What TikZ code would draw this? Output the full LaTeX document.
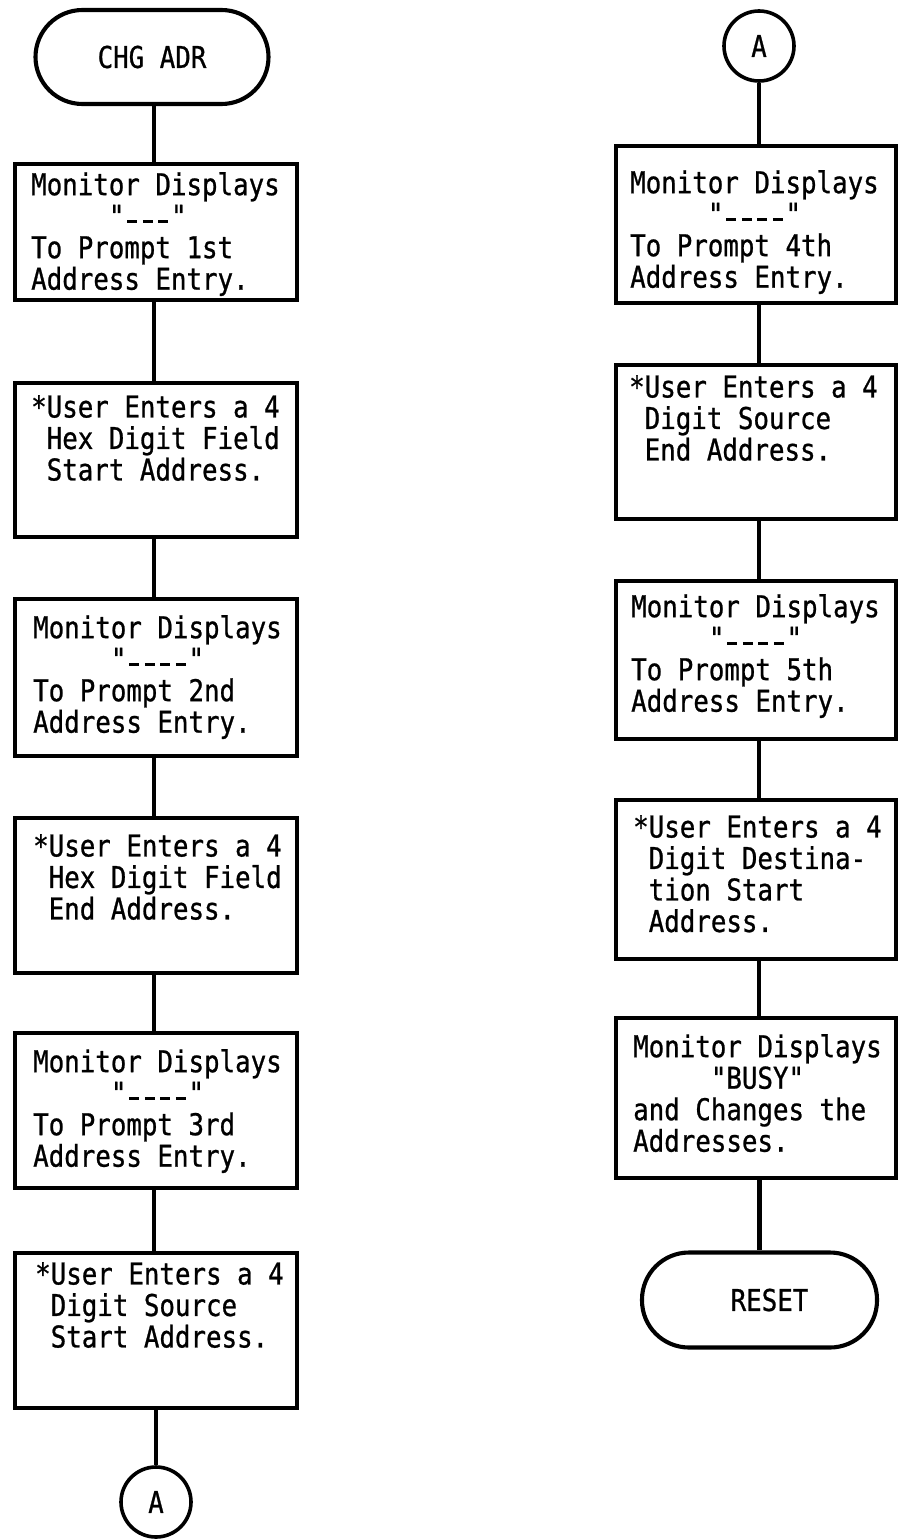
\documentclass[tikz,border=0pt]{standalone}
\usepackage{fontspec}
\newfontfamily\tw[FakeStretch=0.86,FakeBold=0.8]{DejaVu Sans Mono}
% a blank digit on the display: a short low stroke, one character wide
\newcommand\dsh{\rlap{\hspace{0.095em}\rule[0.13em]{0.33em}{0.08em}}\phantom{x}}
\newcommand\ind[1]{\phantom{#1}}
\begin{document}
\begin{tikzpicture}[x=1pt,y=-1pt,
  typed/.style={font={\tw\fontsize{30pt}{31.5pt}\selectfont}},
  stepbox/.style={draw, line width=4.1pt, rectangle, inner sep=0pt, anchor=north west},
  term/.style={draw, line width=4.1pt, rectangle, rounded corners=47pt, inner sep=0pt,
    minimum width=233pt, minimum height=94pt, typed},
  conn/.style={draw, line width=3.6pt, circle, inner sep=0pt, minimum size=70pt, typed},
  txt/.style={typed, align=left, inner sep=0pt, anchor=north west},
  wire/.style={line width=4.2pt}]
\fill[white] (0,0) rectangle (898,1539);
\useasboundingbox (0,0) rectangle (898,1539);

% column axes
\coordinate (lc) at (154,0);
\coordinate (rc) at (759,0);

% ---------------- left column ----------------
\node[term] (start) at (152,57) {CHG ADR};

\node[stepbox, minimum width=282pt, minimum height=136pt] (b1) at (13,162) {};
\node[stepbox, minimum width=282pt, minimum height=154pt] (b2) at (13,381) {};
\node[stepbox, minimum width=282pt, minimum height=157pt] (b3) at (13,597) {};
\node[stepbox, minimum width=282pt, minimum height=155pt] (b4) at (13,816) {};
\node[stepbox, minimum width=282pt, minimum height=155pt] (b5) at (13,1031) {};
\node[stepbox, minimum width=282pt, minimum height=155pt] (b6) at (13,1251) {};
\node[conn] (ca) at (156,1502) {A};

\node[txt] (t1) at (31,172) {Monitor Displays\\\ind{xxxxx}"\dsh\dsh\dsh"\\To Prompt 1st\\Address Entry.};
\node[txt] (t2) at (31,395) {*User Enters a 4\\\ind{x}Hex Digit Field\\\ind{x}Start Address.};
\node[txt] (t3) at (33,615) {Monitor Displays\\\ind{xxxxx}"\dsh\dsh\dsh\dsh"\\To Prompt 2nd\\Address Entry.};
\node[txt] (t4) at (33,834) {*User Enters a 4\\\ind{x}Hex Digit Field\\\ind{x}End Address.};
\node[txt] (t5) at (33,1049) {Monitor Displays\\\ind{xxxxx}"\dsh\dsh\dsh\dsh"\\To Prompt 3rd\\Address Entry.};
\node[txt] (t6) at (35,1262) {*User Enters a 4\\\ind{x}Digit Source\\\ind{x}Start Address.};

\draw[wire] (start.south -| lc) -- (b1.north -| lc);
\draw[wire] (b1.south -| lc) -- (b2.north -| lc);
\draw[wire] (b2.south -| lc) -- (b3.north -| lc);
\draw[wire] (b3.south -| lc) -- (b4.north -| lc);
\draw[wire] (b4.south -| lc) -- (b5.north -| lc);
\draw[wire] (b5.south -| lc) -- (b6.north -| lc);
\draw[wire] (b6.south -| ca) -- (ca.north);

% ---------------- right column ----------------
\node[conn] (cb) at (759,46) {A};
\node[stepbox, minimum width=280pt, minimum height=157pt] (r1) at (614,144) {};
\node[stepbox, minimum width=280pt, minimum height=154pt] (r2) at (614,363) {};
\node[stepbox, minimum width=280pt, minimum height=158pt] (r3) at (614,579) {};
\node[stepbox, minimum width=280pt, minimum height=159pt] (r4) at (614,798) {};
\node[stepbox, minimum width=280pt, minimum height=160pt] (r5) at (614,1016) {};
\node[term, minimum width=235pt, minimum height=95pt] (stop) at (759.5,1300) {\hspace*{20pt}RESET};

\node[txt] (u1) at (630,170) {Monitor Displays\\\ind{xxxxx}"\dsh\dsh\dsh\dsh"\\To Prompt 4th\\Address Entry.};
\node[txt] (u2) at (629,375) {*User Enters a 4\\\ind{x}Digit Source\\\ind{x}End Address.};
\node[txt] (u3) at (631,594) {Monitor Displays\\\ind{xxxxx}"\dsh\dsh\dsh\dsh"\\To Prompt 5th\\Address Entry.};
\node[txt] (u4) at (633,815) {*User Enters a 4\\\ind{x}Digit Destina-\\\ind{x}tion Start\\\ind{x}Address.};
\node[txt] (u5) at (633,1034) {Monitor Displays\\\ind{xxxxx}"BUSY"\\and Changes the\\Addresses.};

\draw[wire] (cb.south) -- (r1.north -| cb);
\draw[wire] (r1.south -| rc) -- (r2.north -| rc);
\draw[wire] (r2.south -| rc) -- (r3.north -| rc);
\draw[wire] (r3.south -| rc) -- (r4.north -| rc);
\draw[wire] (r4.south -| rc) -- (r5.north -| rc);
\draw[wire] (r5.south -| stop) -- (stop.north);
\end{tikzpicture}
\end{document}
